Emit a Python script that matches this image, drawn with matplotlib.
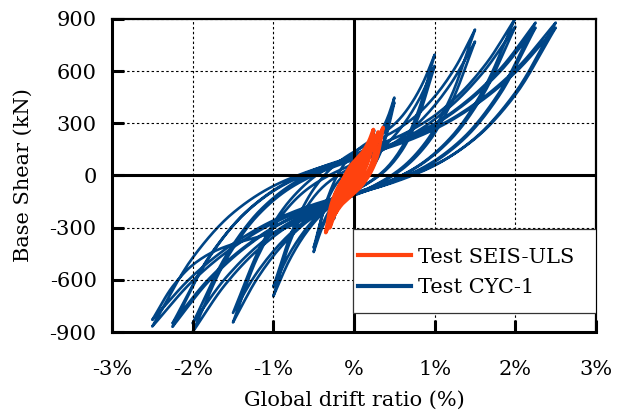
import numpy as np
import matplotlib
matplotlib.use("Agg")
import matplotlib.pyplot as plt
from matplotlib.patches import Rectangle

# ---------------- data ----------------
# Test CYC-1: imposed drift cycles (peak drift %, peak base shear kN)
cyc_drift_pos = [0.10, 0.25, 0.50, 0.50, 1.00, 1.00, 1.50, 1.50, 2.00, 2.00, 2.25, 2.25, 2.50, 2.50]
cyc_force_pos = [130, 260, 448, 420, 695, 630, 839, 770, 905, 856, 879, 850, 879, 850]
cyc_drift_neg = [-0.10, -0.25, -0.50, -0.50, -1.00, -1.00, -1.50, -1.50, -2.00, -2.00, -2.25, -2.25, -2.50, -2.50]
cyc_force_neg = [-120, -250, -440, -415, -695, -640, -845, -790, -900, -850, -870, -850, -868, -830]

# Test SEIS-ULS: successive response peaks (drift %, base shear kN)
seis_drift = [0.06, -0.08, 0.12, -0.14, 0.18, -0.22, 0.24, -0.30, 0.36, -0.35, 0.30, -0.32, 0.24, -0.18, 0.12, -0.06]
seis_force = [70, -80, 130, -140, 180, -210, 264, -300, 276, -328, 250, -300, 230, -170, 110, -40]

# normalised branch shapes between two reversal peaks (u = 0 at target peak, 1 at start peak)
branch_u = [0.0, 0.10, 0.20, 0.30, 0.40, 0.50, 0.60, 0.70, 0.80, 0.90, 1.0]
cyc_branch_h = [0.0, 0.15, 0.26, 0.34, 0.395, 0.435, 0.475, 0.53, 0.62, 0.77, 1.0]
seis_branch_h = [0.0, 0.12, 0.21, 0.28, 0.33, 0.38, 0.43, 0.50, 0.59, 0.73, 1.0]

x_ticks = [-3, -2, -1, 0, 1, 2, 3]
x_tick_labels = ["-3%", "-2%", "-1%", "%", "1%", "2%", "3%"]
y_ticks = [-900, -600, -300, 0, 300, 600, 900]
y_tick_labels = ["-900", "-600", "-300", "0", "300", "600", "900"]


def pchip(xk, yk, xq):
    xk = np.asarray(xk, float)
    yk = np.asarray(yk, float)
    h = np.diff(xk)
    d = np.diff(yk) / h
    m = np.zeros_like(yk)
    m[0], m[-1] = d[0], d[-1]
    for k in range(1, len(xk) - 1):
        if d[k - 1] * d[k] > 0:
            w1 = 2 * h[k] + h[k - 1]
            w2 = h[k] + 2 * h[k - 1]
            m[k] = (w1 + w2) / (w1 / d[k - 1] + w2 / d[k])
    idx = np.clip(np.searchsorted(xk, xq) - 1, 0, len(xk) - 2)
    t = (xq - xk[idx]) / h[idx]
    hh = h[idx]
    h00 = 2 * t**3 - 3 * t**2 + 1
    h10 = t**3 - 2 * t**2 + t
    h01 = -2 * t**3 + 3 * t**2
    h11 = t**3 - t**2
    return h00 * yk[idx] + h10 * hh * m[idx] + h01 * yk[idx + 1] + h11 * hh * m[idx + 1]


def hysteresis_path(px, pf, shape, n=80):
    """Join successive reversal peaks with pinched hysteretic branches."""
    xs, fs = [0.0], [0.0]
    xa, fa = 0.0, 0.0
    for xb, fb in zip(px, pf):
        x = np.linspace(xa, xb, n)
        u = (x - xb) / (xa - xb)
        f = fb + (fa - fb) * pchip(branch_u, shape, u)
        if xa == 0.0 and fa == 0.0:
            f = fb * x / xb
        xs.extend(x[1:])
        fs.extend(f[1:])
        xa, fa = xb, fb
    return np.array(xs), np.array(fs)


# sequence of reversal peaks for the cyclic test
cyc_px, cyc_pf = [], []
for dp, fp, dn, fn in zip(cyc_drift_pos, cyc_force_pos, cyc_drift_neg, cyc_force_neg):
    cyc_px += [dp, dn]
    cyc_pf += [fp, fn]
cyc_px.append(0.0)
cyc_pf.append(0.0)

cx, cf = hysteresis_path(cyc_px, cyc_pf, cyc_branch_h)
sx, sf = hysteresis_path(seis_drift, seis_force, seis_branch_h)

# ---------------- figure ----------------
plt.rcParams["font.family"] = "DejaVu Serif"
fig = plt.figure(figsize=(6.17, 4.11), dpi=100)
ax = fig.add_axes([112 / 617, 1 - 332 / 411, 484 / 617, 313 / 411])

blue = "#004586"
red = "#ff420e"

ax.plot(cx, cf, color=blue, lw=1.9, zorder=2, solid_joinstyle="round")
ax.plot(sx, sf, color=red, lw=2.7, zorder=4, solid_joinstyle="round")

ax.axhline(0, color="black", lw=2.2, zorder=3)
ax.axvline(0, color="black", lw=2.2, zorder=3)

ax.set_xlim(-3, 3)
ax.set_ylim(-900, 900)
ax.set_xticks(x_ticks)
ax.set_xticklabels(x_tick_labels)
ax.set_yticks(y_ticks)
ax.set_yticklabels(y_tick_labels)
ax.tick_params(direction="in", length=8.5, width=2.2, labelsize=15, color="black")
ax.tick_params(axis="x", pad=20)
ax.tick_params(axis="y", pad=11)

ax.set_axisbelow(False)
ax.grid(True, color="black", lw=0.8, linestyle=(0, (2.2, 2.2)))

for side in ["left", "bottom"]:
    ax.spines[side].set_linewidth(2.2)
for side in ["top", "right"]:
    ax.spines[side].set_linewidth(1.6)

ax.set_xlabel("Global drift ratio (%)", fontsize=15, labelpad=9)
ax.set_ylabel("Base Shear (kN)", fontsize=15, labelpad=12)

# legend box
ax.add_patch(Rectangle((0.498, 0.0607), 0.502, 0.268, transform=ax.transAxes,
                       facecolor="white", edgecolor="#333333", lw=0.9, zorder=5))
h_red, = ax.plot([], [], color=red, lw=3.0)
h_blue, = ax.plot([], [], color=blue, lw=3.0)
leg = ax.legend([h_red, h_blue], ["Test SEIS-ULS", "Test CYC-1"], loc="center left",
                bbox_to_anchor=((358 - 112) / 484, (332 - 272.5) / 313), frameon=False,
                fontsize=15, borderpad=0, borderaxespad=0, handlelength=2.55,
                handletextpad=0.33, labelspacing=0.55)
leg.set_zorder(6)

fig.savefig("out.png", dpi=100)
